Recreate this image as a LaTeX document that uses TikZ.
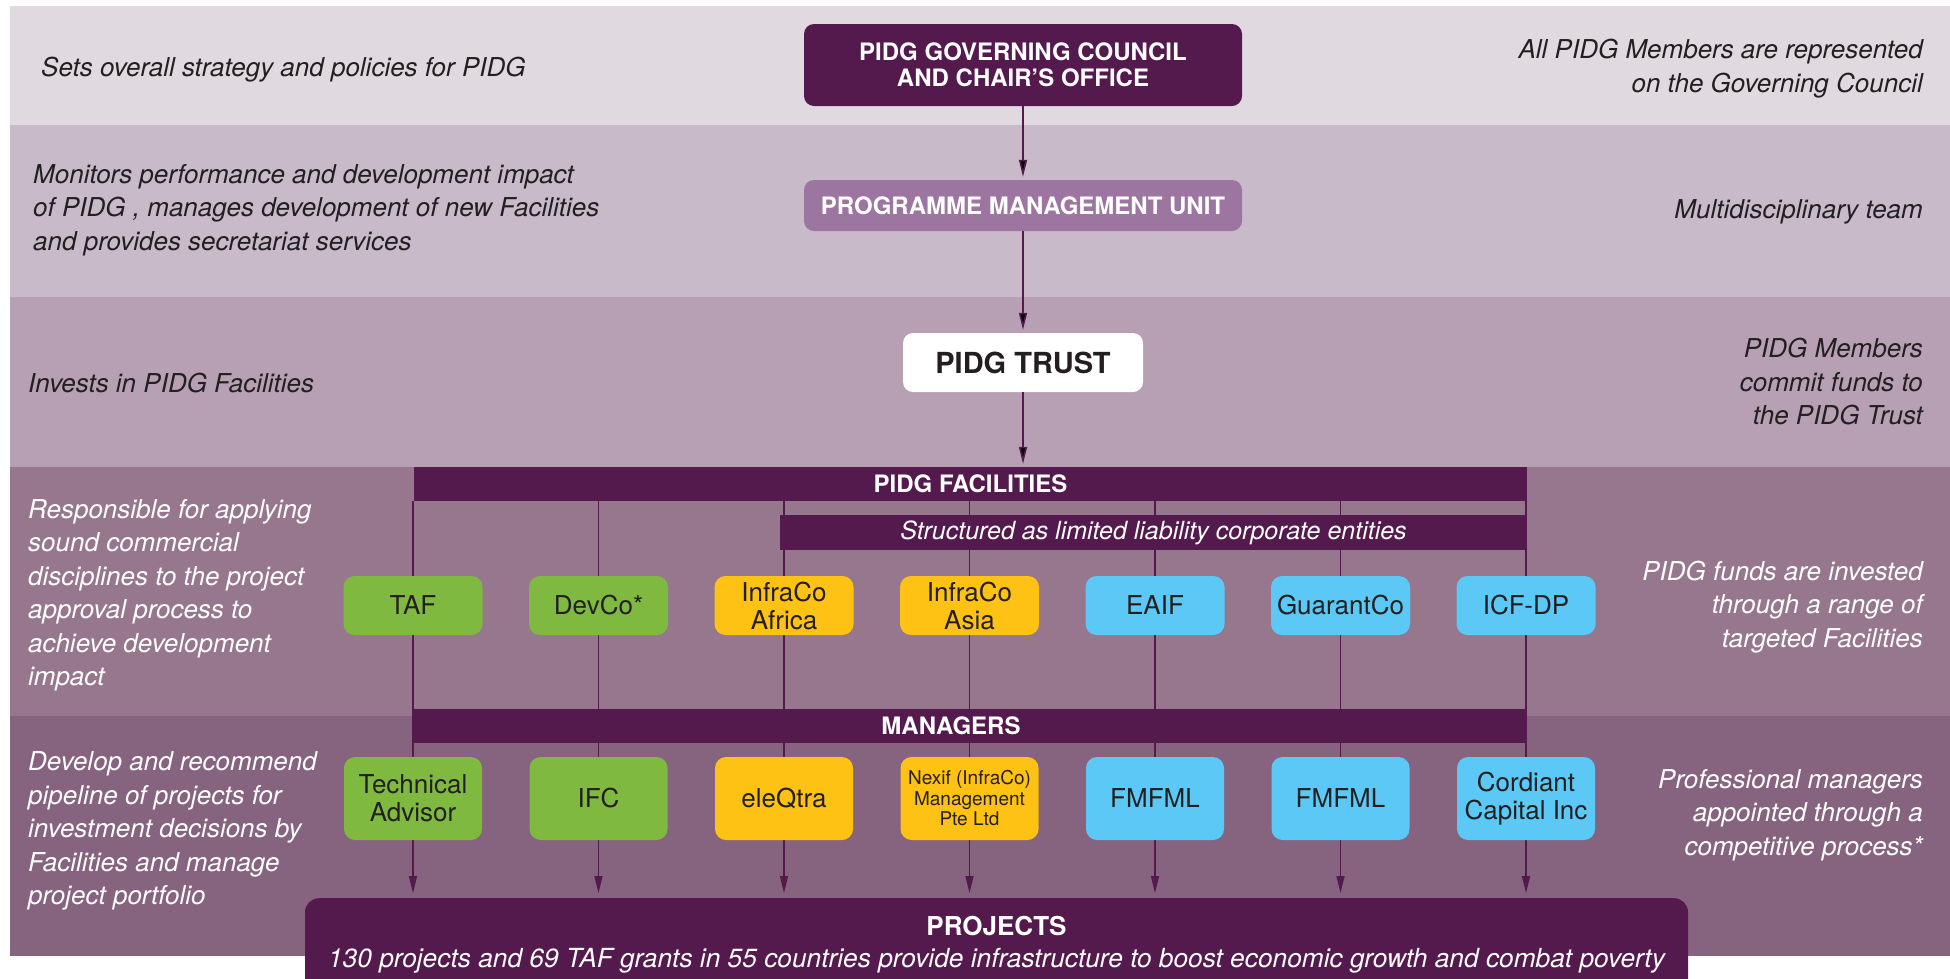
\documentclass[tikz,border=0pt]{standalone}
\usepackage{fontspec}
\setmainfont{TeX Gyre Heros}
\usetikzlibrary{positioning,arrows.meta}

\definecolor{plum}{RGB}{84,25,77}
\definecolor{pmucol}{RGB}{156,118,160}
\definecolor{bandA}{RGB}{224,217,223}
\definecolor{bandB}{RGB}{200,186,201}
\definecolor{bandC}{RGB}{183,160,180}
\definecolor{bandD}{RGB}{150,119,142}
\definecolor{bandE}{RGB}{134,99,126}
\definecolor{leaf}{RGB}{128,185,64}
\definecolor{amber}{RGB}{253,194,20}
\definecolor{sky}{RGB}{91,200,245}
\definecolor{ink}{RGB}{35,31,32}

\newcommand\fsz[2]{\fontsize{#1}{#2}\selectfont}

\pgfdeclarelayer{back}
\pgfsetlayers{back,main}

\begin{document}
\begin{tikzpicture}[x=1pt,y=-1pt,node distance=185.5pt,on grid,
	head/.style={fill=#1,rounded corners=10pt,text=white,align=center,
		font=\bfseries\fsz{24}{26},minimum width=438pt},
	bar/.style={fill=plum,text=white,font=\bfseries\fsz{24}{26},inner sep=0pt},
	fac/.style={fill=#1,rounded corners=11pt,text=ink,align=center,inner sep=0pt,
		font=\fsz{26}{28},minimum width=139pt,minimum height=59pt},
	mgr/.style={fac=#1,minimum width=138pt,minimum height=83pt},
	note/.style={font=\itshape\fsz{26}{33.5},text=ink,inner sep=0pt},
	link/.style={draw=plum,line width=1.6pt,-{Triangle[length=17pt,width=8pt]}}]
	\useasboundingbox (0,0) rectangle (1950,978);

	% top of the structure
	\node[head=plum,minimum height=82pt] (gc) at (1023,65) {PIDG GOVERNING COUNCIL\\AND CHAIR’S OFFICE};
	\node[head=pmucol,minimum height=51pt] (pmu) at (1023,205.5) {PROGRAMME MANAGEMENT UNIT};
	\node[head=white,text=ink,minimum width=240pt,minimum height=59pt,font=\bfseries\fsz{29}{31}] (trust) at (1023,362.5) {PIDG TRUST};

	% facilities
	\node[bar,minimum width=1113pt,minimum height=34pt] (facbar) at (970.5,484) {PIDG FACILITIES};
	\node[bar,minimum width=747pt,minimum height=35pt,font=\itshape\fsz{25}{27}] (corp) at (1153.5,532.5) {Structured as limited liability corporate entities};
	\node[fac=leaf] (taf) at (413,605.5) {TAF};
	\node[fac=leaf] (devco) [right=of taf] {DevCo*};
	\node[fac=amber] (infraaf) [right=of devco] {InfraCo\\Africa};
	\node[fac=amber] (infraas) [right=of infraaf] {InfraCo\\Asia};
	\node[fac=sky] (eaif) [right=of infraas] {EAIF};
	\node[fac=sky] (guarantco) [right=of eaif] {GuarantCo};
	\node[fac=sky] (icfdp) [right=of guarantco] {ICF-DP};

	% managers
	\node[bar,minimum width=1113pt,minimum height=34pt] (mgrbar) at (970.5,726) {};
	\node[bar] (mgrlabel) at (951,726) {MANAGERS};
	\node[mgr=leaf] (tech) [below=193pt of taf] {Technical\\Advisor};
	\node[mgr=leaf] (ifc) [right=of tech] {IFC};
	\node[mgr=amber] (eleqtra) [right=of ifc] {eleQtra};
	\node[mgr=amber,font=\fsz{19}{20.5}] (nexif) [right=of eleqtra] {Nexif (InfraCo)\\Management\\Pte Ltd};
	\node[mgr=sky] (fmfmlA) [right=of nexif] {FMFML};
	\node[mgr=sky] (fmfmlB) [right=of fmfmlA] {FMFML};
	\node[mgr=sky] (cordiant) [right=of fmfmlB] {Cordiant\\Capital Inc};

	% projects
	\node[fill=plum,rounded corners=14pt,minimum width=1383pt,minimum height=140pt,anchor=north] (proj) at (996.5,898) {};
	\node[text=white,font=\bfseries\fsz{26}{28}] (projtitle) at (996.5,926) {PROJECTS};
	\node[text=white,font=\itshape\fsz{26.3}{28}] (projtext) at (996.5,961) {130 projects and 69 TAF grants in 55 countries provide infrastructure to boost economic growth and combat poverty};

	% side notes
	\node[note,anchor=west] (n1) at (41,70) {Sets overall strategy and policies for PIDG};
	\node[note,anchor=east,align=right] (m1) at (1923,68.5) {All PIDG Members are represented\\on the Governing Council};
	\node[note,anchor=west,align=left] (n2) at (33,210) {Monitors performance and development impact\\of PIDG , manages development of new Facilities\\and provides secretariat services};
	\node[note,anchor=east] (m2) at (1923,212) {Multidisciplinary team};
	\node[note,anchor=west] (n3) at (28,383) {Invests in PIDG Facilities};
	\node[note,anchor=east,align=right] (m3) at (1923,382) {PIDG Members\\commit funds to\\the PIDG Trust};
	\node[note,text=white,anchor=west,align=left] (n4) at (28,595) {Responsible for applying\\sound commercial\\disciplines to the project\\approval process to\\achieve development\\impact};
	\node[note,text=white,anchor=east,align=right] (m4) at (1923,607) {PIDG funds are invested\\through a range of\\targeted Facilities};
	\node[note,text=white,anchor=west,align=left] (n5) at (28,831) {Develop and recommend\\pipeline of projects for\\investment decisions by\\Facilities and manage\\project portfolio};
	\node[note,text=white,anchor=east,align=right] (m5) at (1923,815) {Professional managers\\appointed through a\\competitive process*};

	\path[link,shorten >=3pt]
		(gc) edge (pmu)
		(pmu) edge (trust)
		(trust) edge (trust |- facbar.north);

	\begin{pgfonlayer}{back}
		% bands
		\fill[bandA] (10,6) rectangle (1950,125);
		\fill[bandB] (10,125) rectangle (1950,297);
		\fill[bandC] (10,297) rectangle (1950,467);
		\fill[bandD] (10,467) rectangle (1950,716);
		\fill[bandE] (10,716) rectangle (1950,956);
		% one line per facility, down to the projects
		\foreach \c in {taf,devco,infraaf,infraas,eaif,guarantco,icfdp}
			\draw[link,shorten >=5pt] (\c |- facbar.south) -- (\c |- proj.north);
	\end{pgfonlayer}
\end{tikzpicture}
\end{document}
